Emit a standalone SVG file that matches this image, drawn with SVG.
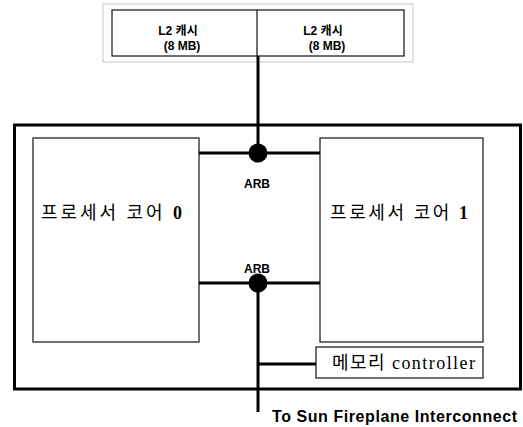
<svg xmlns="http://www.w3.org/2000/svg" width="523" height="427" viewBox="0 0 523 427">
<style>
.box{fill:#fff;stroke:#111;stroke-width:1.2}
.frame{fill:none;stroke:#000;stroke-width:3}
.wire{stroke:#000;stroke-width:3;fill:none}
.dot{fill:#000}
.sb{font-family:"Liberation Sans","Noto Sans CJK KR",sans-serif;font-weight:bold;fill:#000}
.sf{font-family:"Liberation Serif","Noto Sans CJK KR",serif;fill:#000}
</style>
<rect width="523" height="427" fill="#fff"/>
<g id="l2cache">
<rect x="103" y="4" width="310" height="58" fill="none" stroke="#bbb" stroke-width="0.8"/>
<rect class="box" x="112" y="10" width="292" height="46"/>
<line x1="257" y1="10" x2="257" y2="56" stroke="#111" stroke-width="1.2"/>
<text class="sb" font-size="12" x="178" y="35" text-anchor="middle">L2 캐시</text>
<text class="sb" font-size="12" x="182" y="50" text-anchor="middle">(8 MB)</text>
<text class="sb" font-size="12" x="323" y="35" text-anchor="middle">L2 캐시</text>
<text class="sb" font-size="12" x="327" y="50" text-anchor="middle">(8 MB)</text>
</g>
<g id="chip">
<rect class="frame" x="14.5" y="125" width="506" height="264"/>
</g>
<g id="core0">
<rect class="box" x="33" y="138" width="166" height="204"/>
<text class="sf" font-size="18" x="41" y="219" textLength="141" lengthAdjust="spacing">프로세서 코어 <tspan font-weight="bold">0</tspan></text>
</g>
<g id="core1">
<rect class="box" x="320" y="138" width="163" height="204"/>
<text class="sf" font-size="18" x="330" y="219" textLength="138" lengthAdjust="spacing">프로세서 코어 <tspan font-weight="bold">1</tspan></text>
</g>
<g id="memctrl">
<rect class="box" x="316" y="347" width="167" height="31"/>
<text class="sf" font-size="18" x="332" y="369" textLength="143" lengthAdjust="spacing">메모리 controller</text>
</g>
<g id="connectors">
<line class="wire" x1="258" y1="56" x2="258" y2="153"/>
<line class="wire" x1="199" y1="153" x2="320" y2="153"/>
<line class="wire" x1="199" y1="283" x2="320" y2="283"/>
<line class="wire" x1="258" y1="283" x2="258" y2="412"/>
<line class="wire" x1="258" y1="364" x2="316" y2="364"/>
</g>
<g id="arb1">
<circle class="dot" cx="258" cy="153" r="9.5"/>
<text class="sb" font-size="12" x="257" y="188" text-anchor="middle">ARB</text>
</g>
<g id="arb2">
<circle class="dot" cx="258" cy="283" r="9.5"/>
<text class="sb" font-size="12" x="257" y="273" text-anchor="middle">ARB</text>
</g>
<text class="sb" font-size="16" x="272" y="422" textLength="245" lengthAdjust="spacing">To Sun Fireplane Interconnect</text>
</svg>
